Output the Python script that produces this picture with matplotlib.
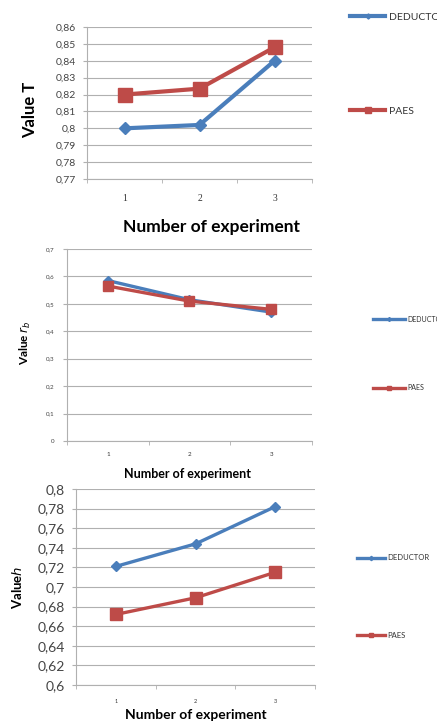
import matplotlib
matplotlib.use("Agg")
import matplotlib.pyplot as plt
from matplotlib.ticker import FixedLocator, FuncFormatter

plt.rcParams['font.family'] = ['Lato', 'DejaVu Sans']

experiments = [1, 2, 3]
series_names = ["DEDUCTOR", "PAES"]

# panel 1: value T
t_deductor = [0.800, 0.802, 0.840]
t_paes = [0.820, 0.8235, 0.848]
t_ticks = [0.77, 0.78, 0.79, 0.80, 0.81, 0.82, 0.83, 0.84, 0.85, 0.86]

# panel 2: value r_b
rb_deductor = [0.585, 0.515, 0.470]
rb_paes = [0.565, 0.510, 0.480]
rb_ticks = [0.0, 0.1, 0.2, 0.3, 0.4, 0.5, 0.6, 0.7]

# panel 3: value h
h_deductor = [0.721, 0.744, 0.782]
h_paes = [0.672, 0.689, 0.715]
h_ticks = [0.60, 0.62, 0.64, 0.66, 0.68, 0.70, 0.72, 0.74, 0.76, 0.78, 0.80]

BLUE = "#4a7ebb"
RED = "#be4b48"
GRID = "#b0b0b0"

W, H = 437, 722
fig = plt.figure(figsize=(W / 100, H / 100), dpi=100)


def comma(v, pos=None):
    return f"{v:g}".replace('.', ',')


def px_axes(x0, y0, x1, y1):
    return fig.add_axes([x0 / W, 1 - y1 / H, (x1 - x0) / W, (y1 - y0) / H])


panels = [
    dict(box=(87, 27, 312, 179), d=t_deductor, p=t_paes, ticks=t_ticks,
         ylabel="Value T", ysize=7.5, xsize=7, xfam=['Liberation Serif'],
         ylab=12, xlab=12.5,
         ylab_xy=(-0.218, 0.454), xlab_xy=(0.555, -0.26), xpad=11, ypad=8,
         dms=6.5, pms=9.5, lw=3, leg_fs=7.5, hl=3.4,
         leg=[(350, 17), (350, 111)]),
    dict(box=(67, 249, 312, 441), d=rb_deductor, p=rb_paes, ticks=rb_ticks,
         ylabel="Value $r_b$", ysize=4.5, xsize=4.5, xfam=['Lato'],
         ylab=8.5, xlab=9,
         ylab_xy=(-0.139, 0.51), xlab_xy=(0.49, -0.14), xpad=8, ypad=9,
         dms=5, pms=7.5, lw=2.4, leg_fs=5, hl=4.6,
         leg=[(373, 319), (373, 388)]),
    dict(box=(76, 489, 315, 685), d=h_deductor, p=h_paes, ticks=h_ticks,
         ylabel="Value$h$", ysize=10, xsize=4, xfam=['Lato'],
         ylab=9.5, xlab=10,
         ylab_xy=(-0.218, 0.5), xlab_xy=(0.5, -0.12), xpad=10, ypad=8,
         dms=5.5, pms=8, lw=2.4, leg_fs=5.5, hl=3.6,
         leg=[(357, 558), (357, 635)]),
]

for cfg in panels:
    ax = px_axes(*cfg['box'])
    ld, = ax.plot(experiments, cfg['d'], color=BLUE, lw=cfg['lw'], marker='D',
                  ms=cfg['dms'], zorder=3)
    lp, = ax.plot(experiments, cfg['p'], color=RED, lw=cfg['lw'], marker='s',
                  ms=cfg['pms'], zorder=3)

    ax.set_xlim(0.5, 3.5)
    ax.set_ylim(cfg['ticks'][0], cfg['ticks'][-1])
    ax.yaxis.set_major_locator(FixedLocator(cfg['ticks']))
    ax.yaxis.set_major_formatter(FuncFormatter(comma))
    ax.set_xticks(experiments)
    ax.set_xticks([0.5, 1.5, 2.5, 3.5], minor=True)
    ax.tick_params(axis='x', which='major', length=0, pad=cfg['xpad'],
                   labelsize=cfg['xsize'], labelcolor='#333333')
    for t in ax.get_xticklabels():
        t.set_family(cfg['xfam'])
    ax.tick_params(axis='x', which='minor', length=3, color=GRID)
    ax.tick_params(axis='y', length=3, color=GRID, pad=cfg['ypad'] - 3,
                   labelsize=cfg['ysize'], labelcolor='#444444')
    ax.grid(axis='y', color=GRID, lw=0.8)
    ax.set_axisbelow(True)
    for s in ['top', 'right']:
        ax.spines[s].set_visible(False)
    for s in ['left', 'bottom']:
        ax.spines[s].set_color(GRID)
        ax.spines[s].set_linewidth(0.8)

    ax.set_ylabel(cfg['ylabel'], fontsize=cfg['ylab'], fontweight='bold')
    ax.yaxis.set_label_coords(*cfg['ylab_xy'])
    ax.set_xlabel("Number of experiment", fontsize=cfg['xlab'], fontweight='bold')
    ax.xaxis.set_label_coords(*cfg['xlab_xy'])

    for line, name, (lx, ly) in zip([ld, lp], series_names, cfg['leg']):
        fig.legend(handles=[line], labels=[name], loc='center left',
                   bbox_to_anchor=(lx / W, 1 - ly / H), frameon=False,
                   fontsize=cfg['leg_fs'], handlelength=cfg['hl'],
                   handletextpad=0.3, borderpad=0, borderaxespad=0,
                   markerscale=0.4, labelcolor='#333333')

fig.savefig("out.png", dpi=100)
